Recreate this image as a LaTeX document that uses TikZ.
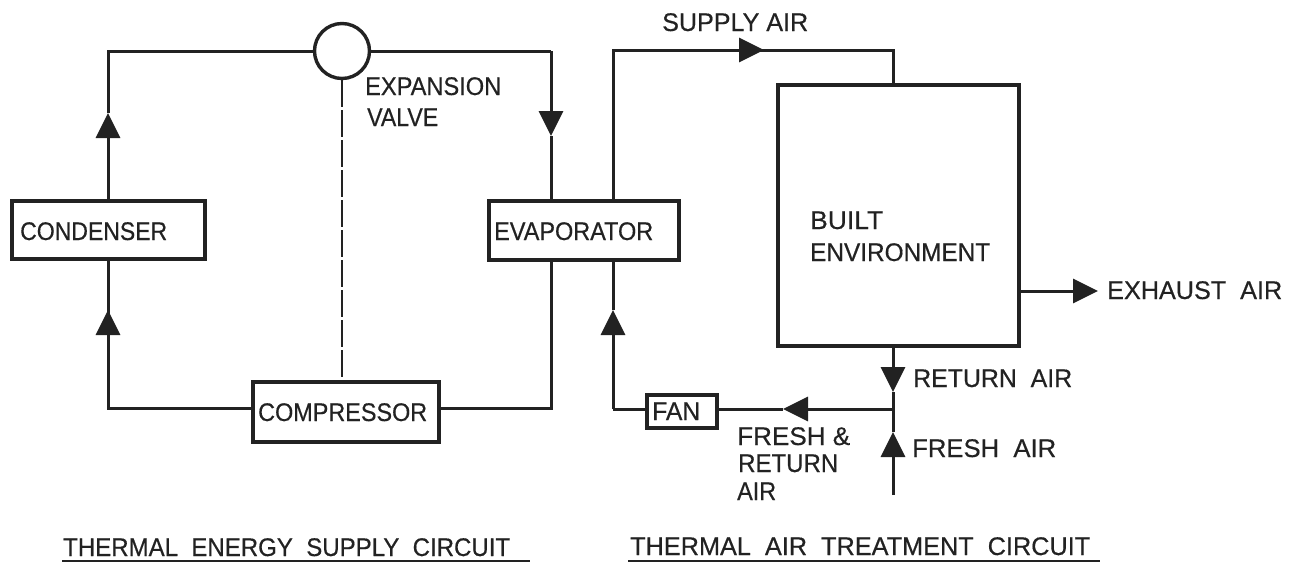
\documentclass[tikz,border=0pt]{standalone}
\usepackage{graphicx}
\usepackage{fontspec}
\setmainfont{Liberation Sans}[FakeBold=0.5]
\usetikzlibrary{arrows.meta,calc}
\definecolor{ink}{HTML}{222222}
\newcommand{\fitw}[2]{\resizebox{#1pt}{\height}{#2}}
\tikzset{
  wire/.style={draw=ink,line width=3pt},
  thin wire/.style={draw=ink,line width=2.6pt},
  flow/.style={wire,-{Triangle[length=25pt,width=24pt]}},
  ctrl/.style={draw=ink,line width=2.4pt,dash pattern=on 27pt off 3pt},
  unit/.style={draw=ink,line width=3.6pt,fill=white,inner sep=0pt,anchor=north west},
  label/.style={text=ink,inner sep=0pt,anchor=base west,font=\fontsize{25.5}{25.5}\selectfont}
}
\begin{document}
\begin{tikzpicture}[x=1pt,y=-1pt]
\useasboundingbox (0,0) rectangle (1299,562);
% units
\node[unit,minimum width=193pt,minimum height=58pt] (condenser) at (10,199) {};
\node[unit,minimum width=190pt,minimum height=59pt] (evaporator) at (487,199) {};
\node[unit,minimum width=186pt,minimum height=60pt] (compressor) at (251,380) {};
\node[unit,minimum width=70pt,minimum height=33pt] (fan) at (645,393) {};
\node[unit,minimum width=241pt,minimum height=261pt] (built) at (776,83) {};
\node[draw=ink,line width=3.4pt,circle,minimum size=55pt,inner sep=0pt] (valve) at (342,51) {};
% refrigerant-circuit way points
\coordinate (tl) at (108,51);
\coordinate (tr) at (551,51);
\coordinate (bl) at (108,408);
\coordinate (br) at (551,408);
\coordinate (a1) at (108,113);
\coordinate (a2) at (108,310);
\coordinate (a3) at (551,136);
% refrigerant circuit
\draw[wire] (valve.west |- tl) -- (tl) -- (a1);
\draw[flow] (a1 |- condenser.north) -- (a1);
\draw[wire] (a2) -- (a2 |- condenser.south);
\draw[wire] (compressor.west |- bl) -- (bl) -- (a2);
\draw[flow] (a2 |- bl) -- (a2);
\draw[flow] (tr) -- (a3);
\draw[wire] (valve.east |- tr) -- (tr);
\draw[wire] (a3) -- (a3 |- evaporator.north);
\draw[wire] (tr |- evaporator.south) -- (br) -- (compressor.east |- br);
\draw[ctrl] (valve.south) -- (valve.south |- compressor.north);
% air-circuit way points
\coordinate (sl) at (613,50);
\coordinate (sr) at (893,50);
\coordinate (a4) at (764,50);
\coordinate (fl) at (613,409);
\coordinate (a5) at (613,310);
\coordinate (j) at (893,409);
\coordinate (a6) at (783,409);
\coordinate (a7) at (893,392);
\coordinate (a8) at (893,432);
\coordinate (inlet) at (893,495);
\coordinate (a9) at (1098,291);
% air circuit
\draw[wire] (sl |- evaporator.north) -- (sl) -- (a4);
\draw[flow] (sl) -- (a4);
\draw[wire] (a4) -- (sr) -- (sr |- built.north);
\draw[flow] (fl) -- (a5);
\draw[wire] (a5) -- (a5 |- evaporator.south);
\draw[wire] (fan.west |- fl) -- (fl);
\draw[flow] (j) -- (a6);
\draw[wire] (a6) -- (fan.east |- a6);
\draw[flow] (a7 |- built.south) -- (a7);
\draw[wire] (a7) -- (j);
\draw[flow] (inlet) -- (a8);
\draw[wire] (a8) -- (j);
\draw[flow] (built.east |- a9) -- (a9);
% labels
\node[label] (l1) at (20,240) {\fitw{147}{CONDENSER}};
\node[label] (l2) at (494,240) {\fitw{159}{EVAPORATOR}};
\node[label] (l3) at (258,421) {\fitw{169}{COMPRESSOR}};
\node[label] (l4) at (652,420) {\fitw{48}{FAN}};
\node[label] (l5) at (365,95) {\fitw{136}{EXPANSION}};
\node[label] (l6) at (367,126) {\fitw{71}{VALVE}};
\node[label] (l7) at (662,31) {\fitw{146}{SUPPLY AIR}};
\node[label] (l8) at (810,229) {\fitw{73}{BUILT}};
\node[label] (l9) at (810,261) {\fitw{180}{ENVIRONMENT}};
\node[label] (l10) at (1107,299) {\fitw{175}{EXHAUST\ \ AIR}};
\node[label] (l11) at (913,387) {\fitw{159}{RETURN\ \ AIR}};
\node[label] (l12) at (912,457) {\fitw{144}{FRESH\ \ AIR}};
\node[label] (l13) at (737,445) {\fitw{113}{FRESH \&}};
\node[label] (l14) at (738,472) {\fitw{100}{RETURN}};
\node[label] (l15) at (737,500) {\fitw{39}{AIR}};
\node[label] (t1) at (63,556) {\fitw{447}{THERMAL\ \ ENERGY\ \ SUPPLY\ \ CIRCUIT}};
\node[label] (t2) at (630,555) {\fitw{460}{THERMAL\ \ AIR\ \ TREATMENT\ \ CIRCUIT}};
\coordinate (u1a) at (62,561); \coordinate (u1b) at (530,561);
\coordinate (u2a) at (628,561); \coordinate (u2b) at (1100,561);
\draw[thin wire] (u1a) -- (u1b);
\draw[thin wire] (u2a) -- (u2b);
\end{tikzpicture}
\end{document}
